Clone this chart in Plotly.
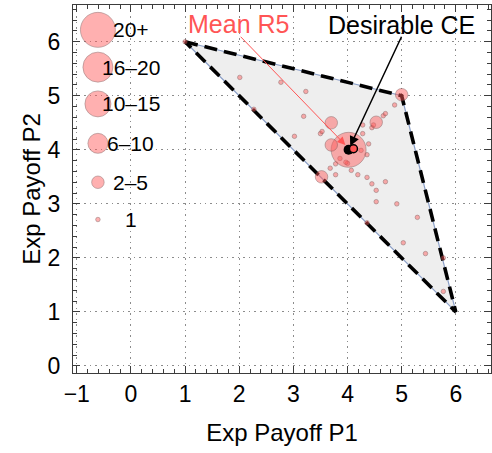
import plotly.graph_objects as go

# ---- data ----
hull_x = [1, 5, 6, 1]
hull_y = [6, 5, 1, 6]

# observed points: x, y, count category
pts_x = [1.00, 2.01, 2.27, 2.77, 3.23, 3.19, 4.48, 4.45, 4.66, 4.70, 4.87, 3.50, 3.53, 3.02,
         4.28, 4.28, 4.25, 4.36, 3.86, 3.78, 4.00, 3.68, 4.07, 3.78, 4.19, 4.36, 4.45, 4.70,
         4.53, 4.53, 4.91, 5.29, 4.36, 5.03, 5.44, 5.77, 5.77, 3.97, 4.39,
         4.02, 5.00, 3.70, 3.70, 3.52, 4.53]
pts_y = [6.00, 5.34, 4.75, 5.25, 5.08, 4.62, 4.46, 4.41, 4.63, 4.67, 4.83, 4.30, 4.34, 4.25,
         4.46, 4.30, 3.99, 3.91, 3.84, 3.74, 3.75, 3.66, 3.62, 3.54, 3.54, 3.49, 3.37, 3.41,
         3.25, 3.04, 3.00, 2.75, 2.65, 2.28, 2.08, 2.00, 1.38, 3.77, 4.11,
         4.00, 5.02, 4.50, 4.09, 3.50, 4.51]
pts_cat = ["1"] * 39 + ["20+", "2–5", "2–5", "2–5", "2–5", "2–5"]

legend_labels = ["20+", "16–20", "10–15", "6–10", "2–5", "1"]
legend_y = [6.22, 5.53, 4.85, 4.12, 3.40, 2.71]
legend_x = -0.61
label_x = 0.0

ce_x, ce_y = [4.02], [4.00]
mean_x, mean_y = [4.11], [4.02]

x_ticks = [-1, 0, 1, 2, 3, 4, 5, 6]
y_ticks = [0, 1, 2, 3, 4, 5, 6]

# ---- style ----
size_map = {"20+": 35, "16–20": 30, "10–15": 26, "6–10": 20, "2–5": 12.5, "1": 4.5}
bubble_fill = "rgba(255,90,90,0.68)"
bubble_line = "rgba(110,70,70,0.55)"
red = "rgb(255,85,85)"
FONT = "Liberation Sans, Arial, sans-serif"

fig = go.Figure()

fig.add_trace(go.Scatter(x=hull_x, y=hull_y, mode="lines", fill="toself",
                         fillcolor="rgb(238,238,238)",
                         line=dict(color="rgb(140,160,200)", width=1.2),
                         hoverinfo="skip", showlegend=False))
fig.add_trace(go.Scatter(x=hull_x, y=hull_y, mode="lines",
                         line=dict(color="black", width=3.6, dash="13px,7px"),
                         hoverinfo="skip", showlegend=False))

fig.add_trace(go.Scatter(x=pts_x, y=pts_y, mode="markers",
                         marker=dict(size=[size_map[c] for c in pts_cat], color=bubble_fill,
                                     line=dict(color=bubble_line, width=1)),
                         showlegend=False))

fig.add_trace(go.Scatter(x=[legend_x] * len(legend_labels), y=legend_y, mode="markers",
                         marker=dict(size=[size_map[c] for c in legend_labels], color=bubble_fill,
                                     line=dict(color=bubble_line, width=1)),
                         showlegend=False, cliponaxis=False))

fig.add_trace(go.Scatter(x=ce_x, y=ce_y, mode="markers",
                         marker=dict(size=10, color="black"), showlegend=False))
fig.add_trace(go.Scatter(x=mean_x, y=mean_y, mode="markers",
                         marker=dict(size=8, color=red, line=dict(color="black", width=1.5)),
                         showlegend=False))

for lab, yy in zip(legend_labels, legend_y):
    fig.add_annotation(x=label_x, y=yy, text=lab, showarrow=False, xanchor="center",
                       yanchor="middle", font=dict(size=21, color="black", family=FONT))

# arrows
fig.add_annotation(x=3.96, y=4.09, ax=2.0, ay=6.12, xref="x", yref="y", axref="x", ayref="y",
                   text="", showarrow=True, arrowhead=2, arrowsize=1.6, arrowwidth=1,
                   arrowcolor=red)
fig.add_annotation(x=4.05, y=4.07, ax=5.01, ay=6.12, xref="x", yref="y", axref="x", ayref="y",
                   text="", showarrow=True, arrowhead=2, arrowsize=1.3, arrowwidth=1.5,
                   arrowcolor="black")
fig.add_annotation(x=1.99, y=6.33, text="Mean R5", showarrow=False,
                   font=dict(size=25, color=red, family=FONT))
fig.add_annotation(x=4.99, y=6.31, text="Desirable CE", showarrow=False,
                   font=dict(size=25, color="black", family=FONT))

axis_common = dict(showline=True, linecolor="rgb(60,60,60)", linewidth=1.2, mirror="allticks",
                   ticks="inside", ticklen=7, tickcolor="rgb(60,60,60)", tickwidth=1,
                   showgrid=True, gridcolor="rgb(140,140,140)", griddash="1.5px,4px", gridwidth=1.2,
                   zeroline=False, tickfont=dict(size=23, color="black", family=FONT),
                   automargin=False,
                   minor=dict(dtick=0.2, ticks="inside", ticklen=4, tickcolor="rgb(60,60,60)",
                              showgrid=False))

fig.update_xaxes(range=[-1.07, 6.65], tickvals=x_ticks,
                 ticktext=[str(v).replace("-", "−") for v in x_ticks],
                 title=dict(text="Exp Payoff P1", font=dict(size=24, color="black", family=FONT),
                            standoff=18), **axis_common)
fig.update_yaxes(range=[-0.13, 6.68], tickvals=y_ticks, ticktext=[str(v) for v in y_ticks],
                 ticklabelstandoff=7,
                 title=dict(text="Exp Payoff P2", font=dict(size=24, color="black", family=FONT),
                            standoff=0), **axis_common)

fig.update_layout(width=492, height=453, margin=dict(l=73, r=1, t=5, b=80),
                  plot_bgcolor="white", paper_bgcolor="white", showlegend=False,
                  font=dict(family=FONT))

fig.write_html("out.html", config={"displayModeBar": False},
               post_script="document.body.style.margin='0';")
